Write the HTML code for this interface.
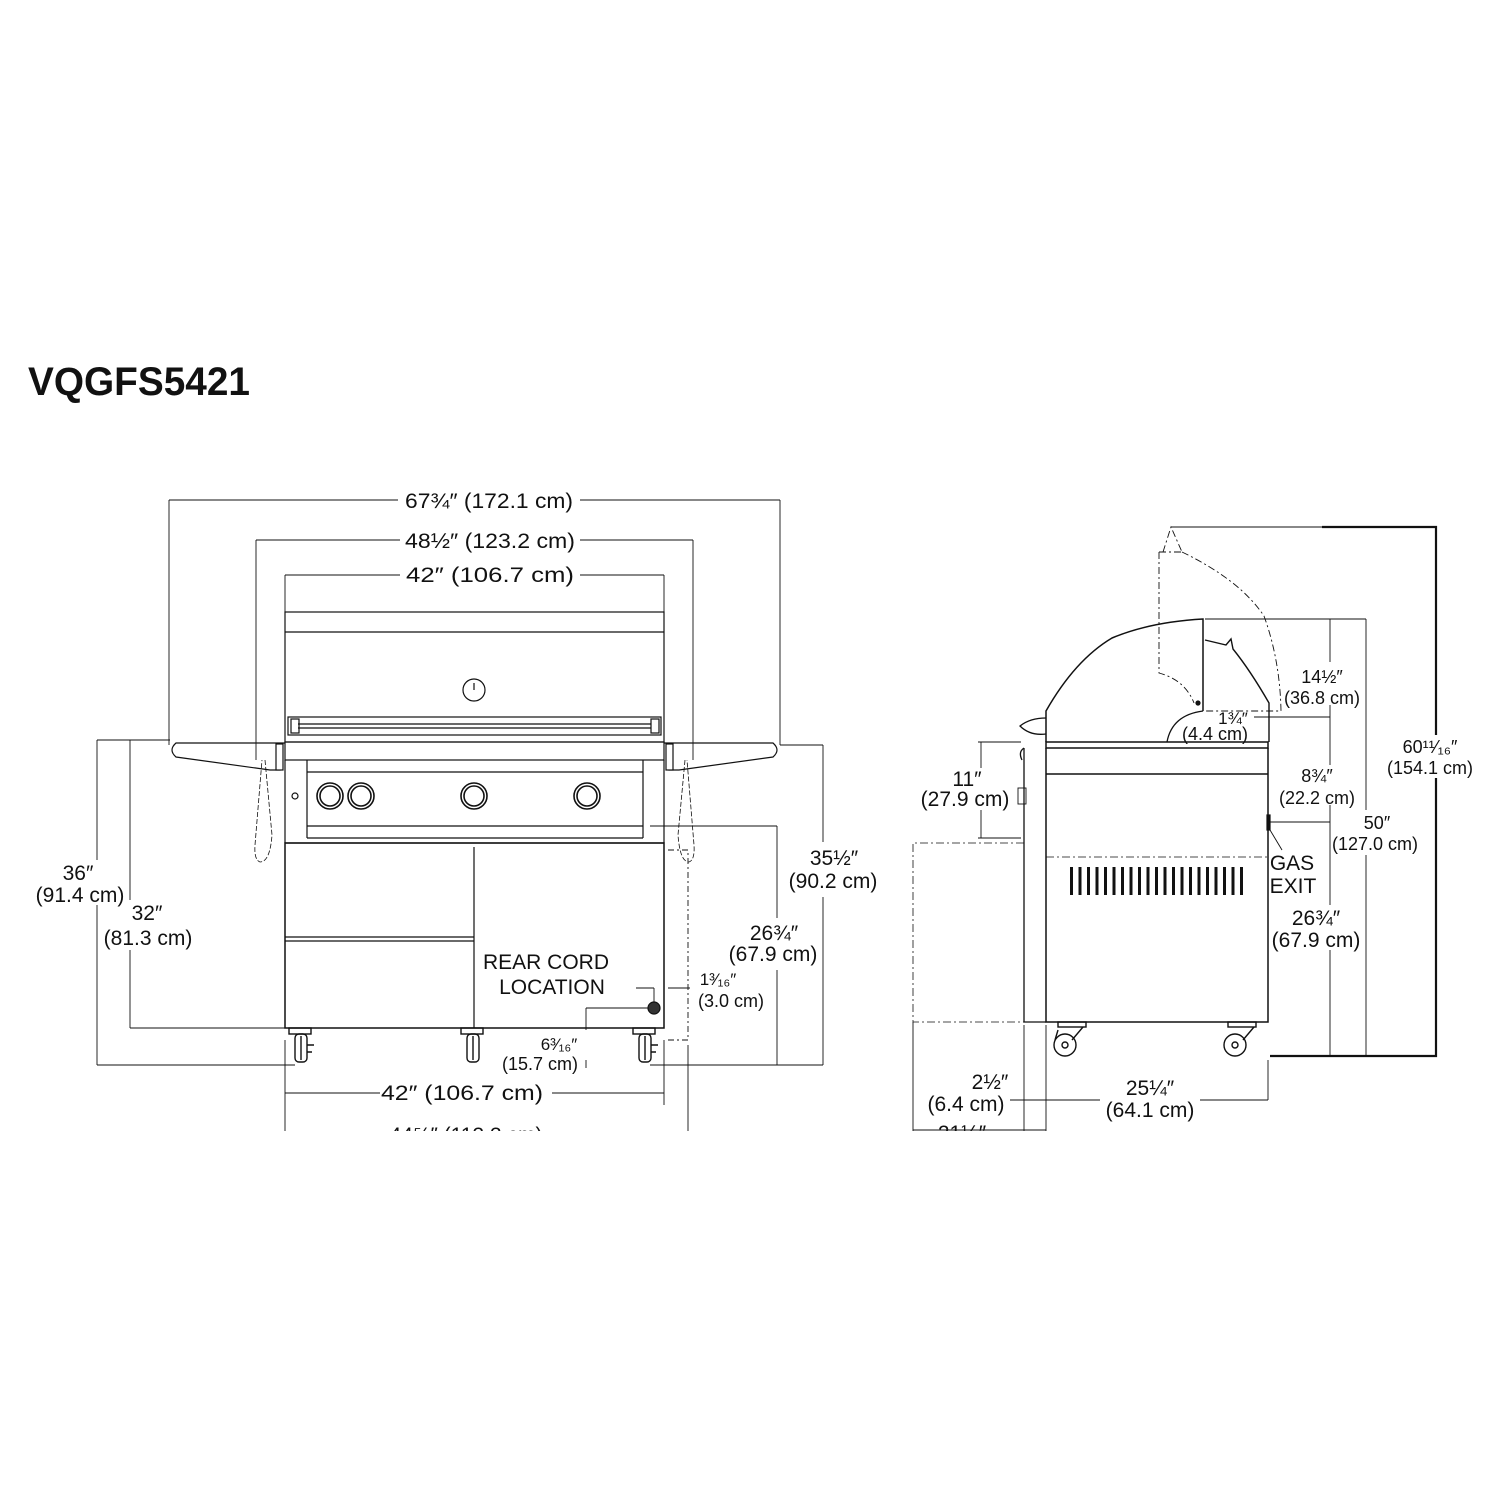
<!DOCTYPE html>
<html><head><meta charset="utf-8"><style>
html,body{margin:0;padding:0;background:#fff}
svg{display:block}
text{font-family:"Liberation Sans",sans-serif;fill:#111}
</style></head><body>
<svg width="1500" height="1500" viewBox="0 0 1500 1500" xmlns="http://www.w3.org/2000/svg">
<defs><clipPath id="c"><rect x="0" y="0" width="1500" height="1131"/></clipPath></defs>
<text x="28" y="395" font-size="40" font-weight="bold" textLength="222" lengthAdjust="spacingAndGlyphs">VQGFS5421</text>
<g clip-path="url(#c)" stroke="#111" fill="none" stroke-width="1.2">
<!-- ===== FRONT VIEW ===== -->
<!-- dimension lines top -->
<g stroke-width="0.9">
<line x1="169" y1="500" x2="398" y2="500"/><line x1="580" y1="500" x2="780" y2="500"/>
<line x1="169" y1="500" x2="169" y2="745"/><line x1="780" y1="500" x2="780" y2="745"/>
<line x1="256" y1="540" x2="400" y2="540"/><line x1="580" y1="540" x2="693" y2="540"/>
<line x1="256" y1="540" x2="256" y2="760"/><line x1="693" y1="540" x2="693" y2="760"/>
<line x1="285" y1="575" x2="400" y2="575"/><line x1="580" y1="575" x2="664" y2="575"/>
<line x1="285" y1="575" x2="285" y2="612"/><line x1="664" y1="575" x2="664" y2="612"/>
<!-- left verticals -->
<line x1="97" y1="740" x2="97" y2="860"/><line x1="97" y1="905" x2="97" y2="1065"/>
<line x1="130" y1="740" x2="130" y2="900"/><line x1="130" y1="950" x2="130" y2="1028"/>
<line x1="97" y1="740" x2="170" y2="740"/>
<line x1="130" y1="1028" x2="285" y2="1028"/><line x1="97" y1="1065" x2="295" y2="1065"/>
<!-- right verticals -->
<line x1="823" y1="745" x2="823" y2="842"/><line x1="823" y1="897" x2="823" y2="1065"/>
<line x1="777" y1="826" x2="777" y2="918"/><line x1="777" y1="970" x2="777" y2="1065"/>
<line x1="780" y1="745" x2="823" y2="745"/>
<line x1="650" y1="826" x2="777" y2="826"/>
<line x1="650" y1="1065" x2="823" y2="1065"/>
<!-- bottom -->
<line x1="285" y1="1093" x2="380" y2="1093"/><line x1="552" y1="1093" x2="664" y2="1093"/>
<line x1="285" y1="1040" x2="285" y2="1135"/><line x1="664" y1="1040" x2="664" y2="1105"/>
<line x1="688" y1="1045" x2="688" y2="1135"/>
<!-- rear cord -->
<line x1="636" y1="988" x2="654" y2="988"/><line x1="654" y1="988" x2="654" y2="1002"/>
<line x1="668" y1="988" x2="690" y2="988"/>
<line x1="586" y1="1008" x2="650" y2="1008"/><line x1="586" y1="1008" x2="586" y2="1030"/>
<line x1="586" y1="1060" x2="586" y2="1068"/>
</g>
<!-- hood -->
<rect x="285" y="612" width="379" height="130"/>
<line x1="285" y1="632" x2="664" y2="632"/>
<circle cx="474" cy="690" r="11"/><line x1="474" y1="683" x2="474" y2="690"/>
<rect x="288" y="717" width="373" height="18"/>
<line x1="298" y1="724" x2="651" y2="724"/><line x1="298" y1="728" x2="651" y2="728"/>
<rect x="291" y="719" width="8" height="14"/><rect x="651" y="719" width="8" height="14"/>
<rect x="285" y="742" width="379" height="18"/>
<!-- control area -->
<line x1="285" y1="760" x2="285" y2="843"/><line x1="664" y1="760" x2="664" y2="843"/>
<line x1="307" y1="760" x2="307" y2="838"/><line x1="643" y1="760" x2="643" y2="838"/>
<line x1="307" y1="772" x2="643" y2="772"/>
<line x1="307" y1="826" x2="643" y2="826"/><line x1="307" y1="838" x2="643" y2="838"/>
<circle cx="295" cy="796" r="3"/>
<g stroke-width="1.6">
<circle cx="330" cy="796" r="13"/><circle cx="330" cy="796" r="10"/>
<circle cx="361" cy="796" r="13"/><circle cx="361" cy="796" r="10"/>
<circle cx="474" cy="796" r="13"/><circle cx="474" cy="796" r="10"/>
<circle cx="587" cy="796" r="13"/><circle cx="587" cy="796" r="10"/>
</g>
<!-- cabinet -->
<line x1="285" y1="843" x2="664" y2="843"/>
<rect x="285" y="843" width="379" height="185" stroke-width="1.5"/>
<line x1="474" y1="847" x2="474" y2="1028"/>
<line x1="285" y1="937" x2="474" y2="937"/><line x1="285" y1="941" x2="474" y2="941"/>
<circle cx="654" cy="1008" r="6" fill="#333"/>
<path d="M668 850 H688 V1040 H668" stroke-dasharray="6 3 2 3" stroke-width="0.9"/>
<!-- shelves -->
<path d="M285 743 L176 743 Q168 750 176 757 L270 770 L280 770 L280 743"/>
<path d="M664 743 L773 743 Q781 750 773 757 L679 770 L669 770 L669 743"/>
<path d="M265 760 L272 835 Q270 862 260 862 Q254 860 255 845 L262 760" stroke-dasharray="5 2" stroke-width="0.8"/>
<path d="M685 760 L678 835 Q680 862 689 862 Q695 860 694 845 L687 760" stroke-dasharray="5 2" stroke-width="0.8"/>
<rect x="276" y="744" width="7" height="26" fill="#fff"/><rect x="666" y="744" width="7" height="26" fill="#fff"/>
<!-- casters -->
<g stroke-width="1.4">
<rect x="289" y="1028" width="22" height="6"/><rect x="295" y="1034" width="12" height="28" rx="4"/><line x1="301" y1="1036" x2="301" y2="1060"/><path d="M307 1045 h7 M307 1052 h5"/>
<rect x="461" y="1028" width="22" height="6"/><rect x="467" y="1034" width="12" height="28" rx="4"/><line x1="473" y1="1036" x2="473" y2="1060"/>
<rect x="633" y="1028" width="22" height="6"/><rect x="639" y="1034" width="12" height="28" rx="4"/><line x1="645" y1="1036" x2="645" y2="1060"/><path d="M651 1045 h7 M651 1052 h5"/>
</g>

<!-- ===== SIDE VIEW ===== -->
<g stroke-width="0.9">
<line x1="1171" y1="527" x2="1322" y2="527"/>
<path d="M1322 527 H1436 V1056 H1270" stroke-width="2.2"/>
<line x1="1436" y1="735" x2="1436" y2="778" stroke="#fff" stroke-width="6"/>
<line x1="1205" y1="619" x2="1366" y2="619"/>
<line x1="1330" y1="619" x2="1330" y2="662"/><line x1="1330" y1="705" x2="1330" y2="765"/><line x1="1330" y1="805" x2="1330" y2="905"/><line x1="1330" y1="950" x2="1330" y2="1056"/>
<line x1="1366" y1="619" x2="1366" y2="810"/><line x1="1366" y1="855" x2="1366" y2="1056"/>
<line x1="1254" y1="717" x2="1330" y2="717"/>
<line x1="1270" y1="822" x2="1330" y2="822"/>
<line x1="981" y1="742" x2="981" y2="768"/><line x1="981" y1="810" x2="981" y2="838"/>
<line x1="978" y1="742" x2="1021" y2="742"/><line x1="978" y1="838" x2="1021" y2="838"/>
<line x1="1024" y1="1025" x2="1024" y2="1135"/><line x1="1046" y1="1025" x2="1046" y2="1135"/>
<line x1="1268" y1="1060" x2="1268" y2="1100"/>
<line x1="1010" y1="1100" x2="1100" y2="1100"/><line x1="1200" y1="1100" x2="1268" y2="1100"/>
<line x1="913" y1="1130" x2="1046" y2="1130"/>
<line x1="913" y1="1022" x2="913" y2="1135"/>
</g>
<!-- dashed left box -->
<path d="M1024 843 H913 V1022 H1024" stroke-dasharray="8 3 2 3" stroke-width="0.8"/>
<!-- body -->
<rect x="1046" y="742" width="222" height="6" stroke-width="1.5"/>
<line x1="1046" y1="774" x2="1268" y2="774" stroke-width="1.5"/>
<path d="M1046 748 V1022 H1268 V748" stroke-width="1.5"/>
<path d="M1024 748 V1022 H1046" stroke-width="1.3"/>
<path d="M1024 748 Q1018 752 1022 760" stroke-width="1.3"/>
<line x1="1046" y1="857" x2="1268" y2="857" stroke-dasharray="8 3 2 3" stroke-width="0.8"/>
<g stroke="none" fill="#111">
<rect x="1070" y="867" width="3" height="28"/><rect x="1078.5" y="867" width="3" height="28"/><rect x="1087" y="867" width="3" height="28"/><rect x="1095.5" y="867" width="3" height="28"/><rect x="1104" y="867" width="3" height="28"/><rect x="1112.5" y="867" width="3" height="28"/><rect x="1121" y="867" width="3" height="28"/><rect x="1129.5" y="867" width="3" height="28"/><rect x="1138" y="867" width="3" height="28"/><rect x="1146.5" y="867" width="3" height="28"/><rect x="1155" y="867" width="3" height="28"/><rect x="1163.5" y="867" width="3" height="28"/><rect x="1172" y="867" width="3" height="28"/><rect x="1180.5" y="867" width="3" height="28"/><rect x="1189" y="867" width="3" height="28"/><rect x="1197.5" y="867" width="3" height="28"/><rect x="1206" y="867" width="3" height="28"/><rect x="1214.5" y="867" width="3" height="28"/><rect x="1223" y="867" width="3" height="28"/><rect x="1231.5" y="867" width="3" height="28"/><rect x="1240" y="867" width="3" height="28"/>
</g>
<rect x="1267" y="815" width="3" height="15" fill="#111"/>
<line x1="1270" y1="830" x2="1282" y2="850" stroke-width="0.9"/>
<rect x="1018" y="788" width="8" height="16" stroke-width="0.9"/>
<!-- hood -->
<path d="M1046 742 V711 Q1075 660 1112 638 Q1150 622 1203 619 V711" stroke-width="1.5"/>
<path d="M1046 718 Q1030 718 1020 726 Q1030 736 1046 734" stroke-width="1.3"/>
<path d="M1205 640 L1226 645 L1231 639 L1233 649 Q1250 670 1269 703 V742" stroke-width="1.4"/>
<path d="M1167 742 Q1172 715 1203 711" stroke-width="1.3"/>
<circle cx="1198" cy="703" r="2" fill="#111"/>
<!-- open hood dashed -->
<g stroke-dasharray="7 3 2 3" stroke-width="0.9">
<path d="M1159 552 V673 Q1185 680 1194 703"/>
<path d="M1163 552 L1171 527 L1182 552"/>
<line x1="1159" y1="552" x2="1182" y2="552"/>
<path d="M1182 552 Q1240 580 1264 616 Q1280 660 1281 711 H1203"/>
</g>
<!-- side casters -->
<g stroke-width="1.4">
<rect x="1058" y="1022" width="28" height="5"/>
<circle cx="1065" cy="1045" r="11"/><circle cx="1065" cy="1045" r="3"/>
<path d="M1083 1027 L1072 1040 M1058 1030 L1055 1040"/>
<rect x="1228" y="1022" width="28" height="5"/>
<circle cx="1235" cy="1045" r="11"/><circle cx="1235" cy="1045" r="3"/>
<path d="M1254 1027 L1243 1040"/>
</g>
</g>
<!-- TEXT -->
<g clip-path="url(#c)" font-size="21" text-anchor="middle">
<text x="489" y="508" textLength="168" lengthAdjust="spacingAndGlyphs">67¾″ (172.1 cm)</text>
<text x="490" y="548" textLength="170" lengthAdjust="spacingAndGlyphs">48½″ (123.2 cm)</text>
<text x="490" y="582" textLength="168" lengthAdjust="spacingAndGlyphs">42″  (106.7 cm)</text>
<text x="78" y="880">36″</text><text x="80" y="902">(91.4 cm)</text>
<text x="147" y="920">32″</text><text x="148" y="945">(81.3 cm)</text>
<text x="834" y="865">35½″</text><text x="833" y="888">(90.2 cm)</text>
<text x="774" y="940">26¾″</text><text x="773" y="961">(67.9 cm)</text>
<text x="546" y="969">REAR CORD</text><text x="552" y="994">LOCATION</text>
<text x="718" y="985" font-size="17">1³⁄₁₆″</text><text x="731" y="1007" font-size="18">(3.0 cm)</text>
<text x="559" y="1050" font-size="17">6³⁄₁₆″</text><text x="540" y="1070" font-size="18">(15.7 cm)</text>
<text x="462" y="1100" textLength="162" lengthAdjust="spacingAndGlyphs">42″  (106.7 cm)</text>
<text x="466" y="1142">44⅝″ (113.3 cm)</text>
<text x="967" y="786">11″</text><text x="965" y="806">(27.9 cm)</text>
<text x="1322" y="683" font-size="18">14½″</text><text x="1322" y="704" font-size="18">(36.8 cm)</text>
<text x="1233" y="724" font-size="17">1¾″</text><text x="1215" y="740" font-size="18">(4.4 cm)</text>
<text x="1317" y="782" font-size="18">8¾″</text><text x="1317" y="804" font-size="18">(22.2 cm)</text>
<text x="1377" y="829" font-size="18">50″</text><text x="1375" y="850" font-size="18">(127.0 cm)</text>
<text x="1430" y="753" font-size="18">60¹¹⁄₁₆″</text><text x="1430" y="774" font-size="18">(154.1 cm)</text>
<text x="1292" y="870">GAS</text><text x="1293" y="893">EXIT</text>
<text x="1316" y="925">26¾″</text><text x="1316" y="947">(67.9 cm)</text>
<text x="990" y="1089">2½″</text><text x="966" y="1111">(6.4 cm)</text>
<text x="1150" y="1095">25¼″</text><text x="1150" y="1117">(64.1 cm)</text>
<text x="962" y="1140">21½″</text>
</g>
</svg>
</body></html>
